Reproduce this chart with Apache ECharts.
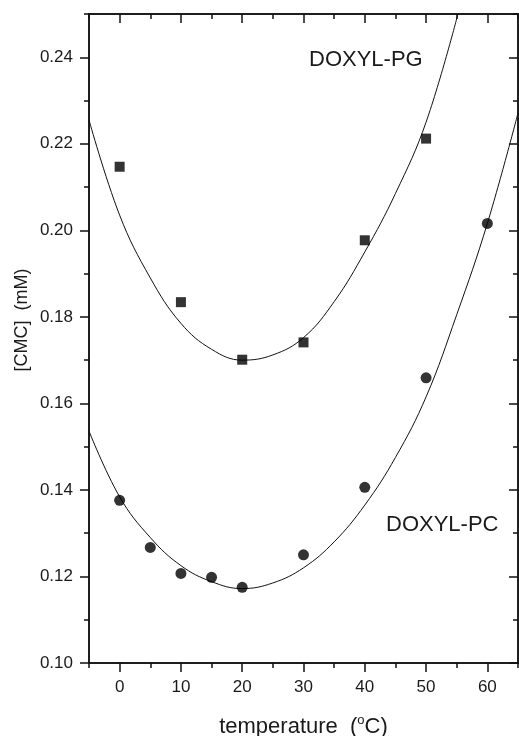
<!DOCTYPE html>
<html>
<head>
<meta charset="utf-8">
<script src="https://cdn.jsdelivr.net/npm/echarts@6/dist/echarts.min.js"></script>
<style>
  html, body { margin: 0; padding: 0; background: #fff; }
  #chart { width: 519px; height: 736px; }
</style>
</head>
<body>
<div id="chart"></div>
<script>
// measured points
const pgTemp = [0, 10, 20, 30, 40, 50]
const pgCmc = [0.2147, 0.1834, 0.1701, 0.1741, 0.1977, 0.2212]
const pcTemp = [0, 5, 10, 15, 20, 30, 40, 50, 60]
const pcCmc = [0.1376, 0.1267, 0.1207, 0.1198, 0.1175, 0.1250, 0.1406, 0.1659, 0.2016]
// fitted curves
const pgFitTemp = [-5, 0, 5, 10, 15, 20, 25, 30, 35, 40, 45, 50, 55.2]
const pgFitCmc = [0.2255, 0.2035, 0.1890, 0.1785, 0.1725, 0.1700, 0.1712, 0.1752, 0.1835, 0.1950, 0.2085, 0.2250, 0.2500]
const pcFitTemp = [-5, 0, 5, 10, 15, 20, 25, 30, 35, 40, 45, 50, 55, 60, 65]
const pcFitCmc = [0.1536, 0.1384, 0.1290, 0.1225, 0.1188, 0.1172, 0.1185, 0.1220, 0.1280, 0.1365, 0.1475, 0.1615, 0.1805, 0.2016, 0.2271]
// ticks
const xMajor = [0, 10, 20, 30, 40, 50, 60]
const xMinor = [-5, 5, 15, 25, 35, 45, 55, 65]
const yMajor = [0.10, 0.12, 0.14, 0.16, 0.18, 0.20, 0.22, 0.24]
const yMinor = [0.11, 0.13, 0.15, 0.17, 0.19, 0.21, 0.23, 0.25]

const zip = (a, b) => a.map((v, i) => [v, b[i]])
const ink = '#111'
const txt = '#1a1a1a'
const font = 'Liberation Sans'
const lineStyle = { color: ink, width: 1.5 }

function xAxisOf(pos, ticks, len, inside, labels) {
  return {
    type: 'value', position: pos, min: -5, max: 65,
    axisLine: { show: true, onZero: false, lineStyle },
    axisTick: { show: true, inside, length: len, customValues: ticks, lineStyle },
    axisLabel: labels
      ? { show: true, customValues: xMajor, margin: 16, fontSize: 17, color: txt, fontFamily: font }
      : { show: false },
    splitLine: { show: false }
  }
}
function yAxisOf(pos, ticks, len, inside, labels) {
  return {
    type: 'value', position: pos, min: 0.10, max: 0.25,
    axisLine: { show: true, onZero: false, lineStyle },
    axisTick: { show: true, inside, length: len, customValues: ticks, lineStyle },
    axisLabel: labels
      ? { show: true, customValues: yMajor, margin: 16, fontSize: 17, color: txt, fontFamily: font,
          formatter: v => v.toFixed(2) }
      : { show: false },
    splitLine: { show: false }
  }
}

const xBottom = xAxisOf('bottom', xMajor, 9, false, true)
xBottom.name = 'temperature  ({sup|o}C)'
xBottom.nameLocation = 'middle'
xBottom.nameGap = 53
xBottom.nameTextStyle = {
  fontSize: 22, color: txt, fontFamily: font,
  // raised "o" for the degree sign
  rich: { sup: { fontSize: 13, lineHeight: 9, padding: [0, 0, 13, 0], color: txt, fontFamily: font } }
}

const chart = echarts.init(document.getElementById('chart'))
chart.setOption({
  animation: false,
  backgroundColor: '#fff',
  grid: { left: 89, right: 1, top: 14, bottom: 73, containLabel: false, outerBoundsMode: 'none' },
  xAxis: [
    xBottom,
    xAxisOf('bottom', xMinor, 5, false, false),
    xAxisOf('top', xMajor, 9, true, false),
    xAxisOf('top', xMinor, 5, true, false)
  ],
  yAxis: [
    yAxisOf('left', yMajor, 9, false, true),
    yAxisOf('left', yMinor, 5, false, false),
    yAxisOf('right', yMajor, 9, true, false),
    yAxisOf('right', yMinor, 5, true, false)
  ],
  series: [
    { type: 'line', data: zip(pgFitTemp, pgFitCmc), smooth: 0.4, showSymbol: false,
      lineStyle: { color: ink, width: 1 }, z: 2 },
    { type: 'line', data: zip(pcFitTemp, pcFitCmc), smooth: 0.4, showSymbol: false,
      lineStyle: { color: ink, width: 1 }, z: 2 },
    { type: 'scatter', data: zip(pgTemp, pgCmc), symbol: 'rect', symbolSize: 10,
      itemStyle: { color: '#000' }, z: 3 },
    { type: 'scatter', data: zip(pcTemp, pcCmc), symbol: 'circle', symbolSize: 11,
      itemStyle: { color: '#000' }, z: 3 }
  ],
  graphic: [
    { type: 'text', x: 22, y: 320, rotation: Math.PI / 2,
      style: { text: '[CMC]  (mM)', fontSize: 18, fontFamily: font, fill: txt,
               textAlign: 'center', textVerticalAlign: 'middle' } },
    { type: 'text', x: 309, y: 60,
      style: { text: 'DOXYL-PG', fontSize: 22, fontFamily: font, fill: txt,
               textAlign: 'left', textVerticalAlign: 'middle' } },
    { type: 'text', x: 386, y: 525,
      style: { text: 'DOXYL-PC', fontSize: 22, fontFamily: font, fill: txt,
               textAlign: 'left', textVerticalAlign: 'middle' } }
  ]
})
</script>
</body>
</html>
